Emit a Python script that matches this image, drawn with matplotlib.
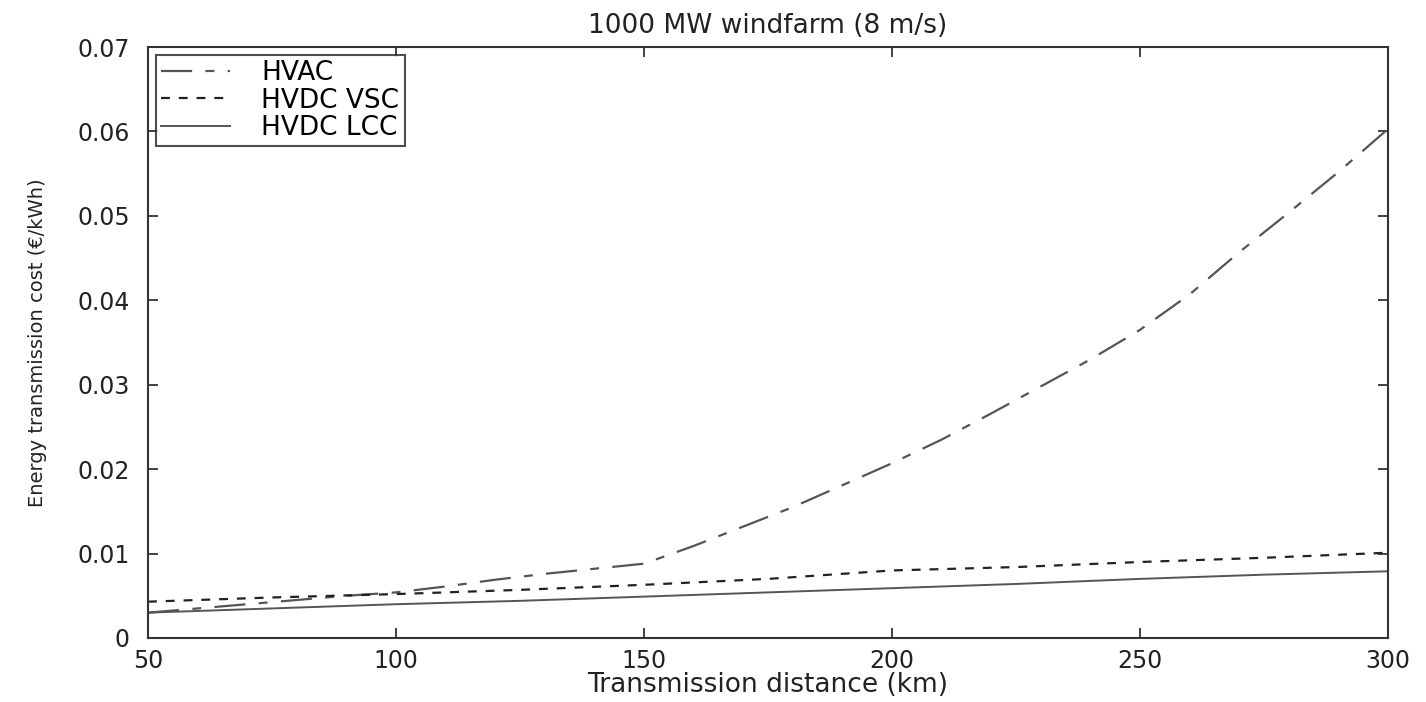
import matplotlib
matplotlib.use("Agg")
import matplotlib.pyplot as plt

distance_hvac_km = [50, 60, 70, 80, 90, 100, 110, 120, 130, 140, 150, 160, 170,
                    180, 190, 200, 210, 220, 230, 240, 250, 260, 270, 280, 290, 300]
hvac = [0.0030, 0.0035, 0.0040, 0.0045, 0.0050, 0.0054, 0.0061, 0.0069, 0.0076,
        0.0082, 0.0088, 0.0109, 0.0132, 0.0155, 0.0181, 0.0207, 0.0235, 0.0266,
        0.0298, 0.0330, 0.0365, 0.0407, 0.0457, 0.0504, 0.0552, 0.0603]

distance_dc_km = [50, 75, 100, 125, 150, 175, 200, 225, 250, 275, 300]
hvdc_vsc = [0.0043, 0.0048, 0.0052, 0.0057, 0.0063, 0.0070, 0.0080, 0.0084, 0.0090, 0.0095, 0.0101]
hvdc_lcc = [0.0030, 0.0035, 0.0040, 0.0044, 0.0049, 0.0054, 0.0059, 0.0064, 0.0070, 0.0075, 0.0079]

x_ticks = [50, 100, 150, 200, 250, 300]
y_ticks = [0, 0.01, 0.02, 0.03, 0.04, 0.05, 0.06, 0.07]
y_ticklabels = ["0", "0.01", "0.02", "0.03", "0.04", "0.05", "0.06", "0.07"]

plt.rcParams['font.family'] = ['DejaVu Sans']

fig = plt.figure(figsize=(14.26, 7.02), dpi=100)
ax = fig.add_axes([0.1038, 0.0912, 0.8696, 0.8418])

ax.plot(distance_hvac_km, hvac, color='#555555', lw=1.6, dashes=(14, 6, 4, 6), label='HVAC')
ax.plot(distance_dc_km, hvdc_vsc, color='#222222', lw=1.6, dashes=(4, 4), label='HVDC VSC')
ax.plot(distance_dc_km, hvdc_lcc, color='#555555', lw=1.4, label='HVDC LCC')

ax.set_xlim(50, 300)
ax.set_ylim(0, 0.07)
ax.set_xticks(x_ticks)
ax.set_yticks(y_ticks)
ax.set_yticklabels(y_ticklabels)
ax.tick_params(direction='in', top=True, right=True, length=7, width=1.2,
               labelsize=17, colors='#222222')
ax.tick_params(axis='y', pad=13)
ax.tick_params(axis='x', pad=8)
for s in ax.spines.values():
    s.set_linewidth(1.5)
    s.set_color('#333333')

ax.set_title('1000 MW windfarm (8 m/s)', fontsize=19, pad=10, color='#222222')
ax.set_xlabel('Transmission distance (km)', fontsize=19, labelpad=-1, color='#222222')
ax.set_ylabel('Energy transmission cost (€/kWh)', fontsize=14, labelpad=22, color='#222222')

leg = ax.legend(loc='upper left', fontsize=19, frameon=True, fancybox=False,
                edgecolor='#222222', handlelength=2.6, borderaxespad=0.3,
                handletextpad=1.2, labelspacing=0.05, borderpad=0.2)
leg.get_frame().set_linewidth(1.5)

fig.savefig('out.png', dpi=100)
